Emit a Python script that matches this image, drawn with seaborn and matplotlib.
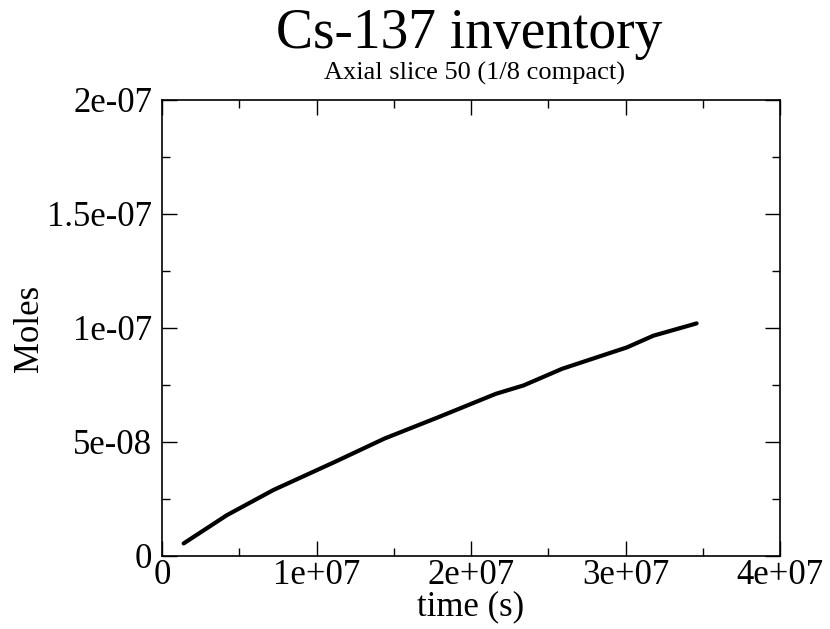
import numpy as np
import pandas as pd
import matplotlib
matplotlib.use("Agg")
import matplotlib.pyplot as plt
from matplotlib.ticker import MultipleLocator
import seaborn as sns

# Cs-137 inventory over time, axial slice 50
time_s = [1.4e6, 4.2e6, 7.2e6, 1.12e7, 1.44e7, 1.79e7, 2.16e7, 2.34e7,
          2.59e7, 3.01e7, 3.18e7, 3.46e7]
moles = [5.5e-9, 1.79e-8, 2.89e-8, 4.13e-8, 5.15e-8, 6.09e-8, 7.11e-8,
         7.48e-8, 8.21e-8, 9.15e-8, 9.66e-8, 1.02e-7]

x_ticks = [0, 1e7, 2e7, 3e7, 4e7]
x_labels = ["0", "1e+07", "2e+07", "3e+07", "4e+07"]
y_ticks = [0, 5e-8, 1e-7, 1.5e-7, 2e-7]
y_labels = ["0", "5e-08", "1e-07", "1.5e-07", "2e-07"]

df = pd.DataFrame({"time": time_s, "moles": moles})

sns.set_style("ticks")
plt.rcParams["font.family"] = ["Liberation Serif", "DejaVu Serif"]
plt.rcParams["text.color"] = "black"
plt.rcParams["axes.labelcolor"] = "black"

fig = plt.figure(figsize=(8.3, 6.29), dpi=100)
left, bottom, width, height = 0.1952, 0.1161, 0.7446, 0.7250
ax = fig.add_axes([left, bottom, width, height])

sns.lineplot(data=df, x="time", y="moles", ax=ax, color="black",
             linewidth=3.0, sort=False)

ax.set_xlim(0, 4e7)
ax.set_ylim(0, 2e-7)
ax.set_xticks(x_ticks)
ax.set_xticklabels(x_labels)
ax.set_yticks(y_ticks)
ax.set_yticklabels(y_labels)
ax.xaxis.set_minor_locator(MultipleLocator(5e6))
ax.yaxis.set_minor_locator(MultipleLocator(2.5e-8))

ax.tick_params(which="both", direction="in", top=True, right=True,
               width=1.0, colors="black", labelcolor="black")
ax.tick_params(which="major", length=11, labelsize=25)
ax.tick_params(axis="x", which="major", pad=2)
ax.tick_params(axis="y", which="major", pad=7)
ax.tick_params(which="minor", length=6)
for sp in ax.spines.values():
    sp.set_visible(True)
    sp.set_linewidth(1.2)
    sp.set_color("black")

ax.set_xlabel("time (s)", fontsize=25, labelpad=-1)
ax.set_ylabel("Moles", fontsize=25)
ax.yaxis.set_label_coords(-0.187, 0.5)

cx = left + width / 2
fig.text(cx - 0.002, 0.946, "Cs-137 inventory", ha="center", va="center",
         fontsize=40)
fig.text(cx + 0.004, 0.884, "Axial slice 50 (1/8 compact)",
         ha="center", va="center", fontsize=19)

fig.savefig("out.png", dpi=100, facecolor="white")
